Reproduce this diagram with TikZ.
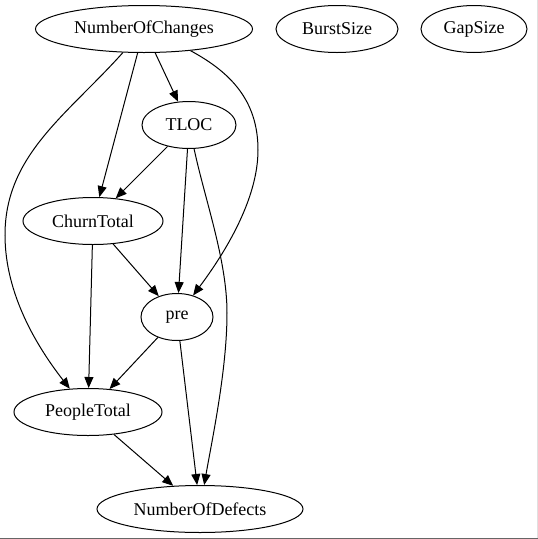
\documentclass[tikz,border=0pt]{standalone}
\usepackage{fontspec}
\setmainfont{Liberation Serif}
\usetikzlibrary{shapes.geometric,arrows.meta}
\begin{document}
\begin{tikzpicture}[x=1pt,y=-1pt,
  nd/.style={draw, ellipse, inner sep=0pt, line width=1pt, font=\rmfamily\fontsize{18}{20}\selectfont},
  ed/.style={draw, line width=1pt, -{Triangle[length=11pt,width=9pt]}}]
\useasboundingbox (0,0) rectangle (538,539);
\fill[white] (0,0) rectangle (538,539);
\node[nd, minimum width=217pt, minimum height=47pt] (noc) at (144,29) {NumberOfChanges};
\node[nd, minimum width=122pt, minimum height=47pt] (burst) at (337,29) {BurstSize};
\node[nd, minimum width=106pt, minimum height=47pt] (gap) at (474,29) {GapSize};
\node[nd, minimum width=94pt, minimum height=47pt] (tloc) at (189,125) {TLOC};
\node[nd, minimum width=140pt, minimum height=47pt] (churn) at (93,221) {ChurnTotal};
\node[nd, minimum width=72pt, minimum height=47pt] (pre) at (177,317) {pre};
\node[nd, minimum width=148pt, minimum height=47pt] (people) at (88,412) {PeopleTotal};
\node[nd, minimum width=206pt, minimum height=47pt] (nod) at (200,509) {NumberOfDefects};
% straight edges
\draw[ed] (noc) -- (tloc);
\draw[ed] (noc) -- (churn);
\draw[ed] (tloc) -- (churn);
\draw[ed] (tloc) -- (pre);
\draw[ed] (churn) -- (pre);
\draw[ed] (churn) -- (people);
\draw[ed] (pre) -- (people);
\draw[ed] (pre) -- (nod);
\draw[ed] (people) -- (nod);
% curved edges
\draw[ed] (noc) .. controls (67,115) and (5,155) .. (5,235)
  .. controls (5,295) and (38,348) .. (people);
\draw[ed] (noc.-25) .. controls (230,72) and (258,100) .. (258,150)
  .. controls (258,200) and (224,254) .. (pre);
\draw[ed] (tloc) .. controls (205,200) and (227,260) .. (227,313)
  .. controls (227,370) and (212,440) .. (nod);
% frame lines
\draw[line width=1pt, color=black!12] (537.5,0) -- (537.5,539);
\draw[line width=1.3pt, color=black!60] (0,538.3) -- (538,538.3);
\end{tikzpicture}
\end{document}
